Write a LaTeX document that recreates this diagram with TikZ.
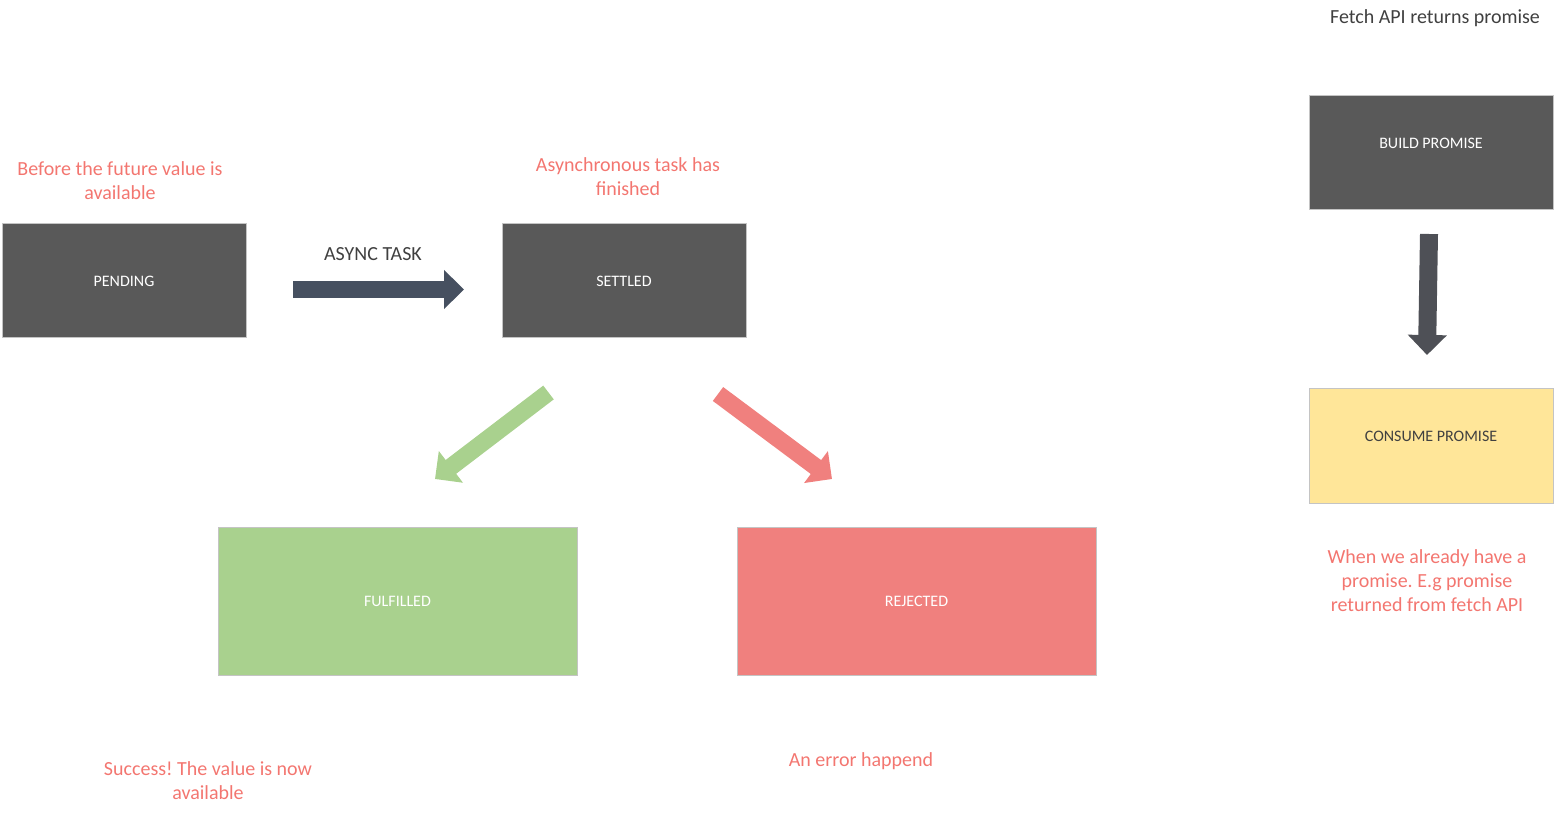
\documentclass[tikz,border=0pt]{standalone}
\usepackage{fontspec}
\setmainfont{Carlito}
\usetikzlibrary{arrows.meta}
\frenchspacing

\definecolor{boxgray}{RGB}{89,89,89}
\definecolor{boxedge}{RGB}{196,196,196}
\definecolor{okgreen}{RGB}{169,209,142}
\definecolor{errred}{RGB}{240,128,126}
\definecolor{notered}{RGB}{243,118,112}
\definecolor{slate}{RGB}{70,80,96}
\definecolor{downgray}{RGB}{78,80,86}
\definecolor{promyellow}{RGB}{255,230,153}
\definecolor{textgray}{RGB}{64,64,64}

\tikzset{every picture/.style={line width=0.75pt}}

\begin{document}
\begin{tikzpicture}[x=0.75pt,y=0.75pt,yscale=-1,
  statebox/.style={draw=boxedge, fill=boxgray, text=white, inner sep=0pt,
    minimum width=183pt, minimum height=85.5pt, font=\fontsize{12}{14}\selectfont},
  bigbox/.style={statebox, minimum width=269.25pt, minimum height=111pt},
  boxtext/.style={inner sep=0pt, font=\fontsize{12}{14}\selectfont},
  note/.style={inner sep=0pt, align=center, text=notered, font=\fontsize{15}{18}\selectfont},
  caption/.style={inner sep=0pt, text=textgray, font=\fontsize{15}{18}\selectfont},
  blockarrow/.style={line width=13pt, -{Triangle[length=15pt, width=29pt]}}
]
\useasboundingbox (0,0) rectangle (1556,816);

%Shape: Rectangle [id:pending] 
\node [statebox] (pending) at (124,281) {PENDING};
%Shape: Rectangle [id:settled] 
\node [statebox] (settled) at (624,281) {SETTLED};
%Shape: Rectangle [id:fulfilled] 
\node [bigbox, fill=okgreen] (fulfilled) at (397.5,601) {FULFILLED};
%Shape: Rectangle [id:rejected] 
\node [bigbox, fill=errred] (rejected) at (916.5,601) {REJECTED};
%Shape: Rectangle [id:build] 
\node [statebox] (build) at (1431,153) {};
%Shape: Rectangle [id:consume] 
\node [statebox, fill=promyellow] (consume) at (1431,446) {};

%Right Arrow [id:async] 
\coordinate (asyncfrom) at (293,289.5);
\coordinate (asyncto) at (464,289.5);
\draw [blockarrow, slate, line width=12.75pt, -{Triangle[length=15pt, width=28.5pt]}] (asyncfrom) -- (asyncto);
%Down Arrow [id:promise] 
\coordinate (buildfrom) at (1429,234);
\coordinate (consumeto) at (1427,355);
\draw [blockarrow, downgray, line width=13.5pt, -{Triangle[length=15pt, width=28.5pt]}] (buildfrom) -- (consumeto);
%Diagonal Arrow [id:resolve] 
\coordinate (okfrom) at (548.5,392.5);
\coordinate (okto) at (435,479);
\draw [blockarrow, okgreen] (okfrom) -- (okto);
%Diagonal Arrow [id:reject] 
\coordinate (errfrom) at (718,394);
\coordinate (errto) at (832,479);
\draw [blockarrow, errred] (errfrom) -- (errto);

% Text Node
\node [boxtext, text=white] (buildlbl) at (1431,143) {BUILD PROMISE};
% Text Node
\node [boxtext, text=textgray] (consumelbl) at (1431,436) {CONSUME PROMISE};
% Text Node
\node [caption] (asynclbl) at (373,254) {ASYNC TASK};
% Text Node
\node [caption] (fetchlbl) at (1435,18) {Fetch API returns promise};
% Text Node
\node [note] (pendnote) at (120,181) {Before the future value is\\available};
% Text Node
\node [note] (settnote) at (628,177) {Asynchronous task has\\finished};
% Text Node
\node [note] (oknote) at (208,781) {Success! The value is now\\available};
% Text Node
\node [note] (errnote) at (861,761) {An error happend};
% Text Node
\node [note] (consnote) at (1427,581) {When we already have a\\promise. E.g promise\\returned from fetch API};

\end{tikzpicture}
\end{document}
